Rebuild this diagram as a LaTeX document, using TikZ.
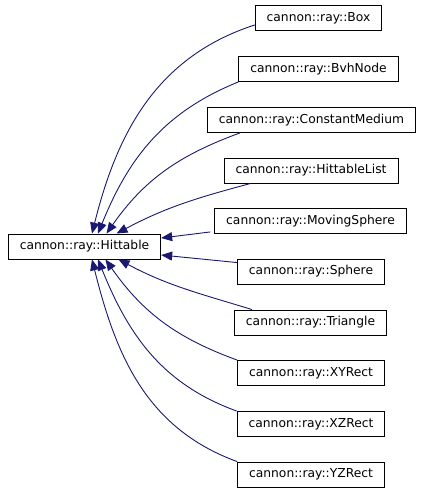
\documentclass[tikz,border=0pt]{standalone}
\usepackage{fontspec}
\setmainfont{DejaVu Sans}
\usepackage{tikz}
\usetikzlibrary{
  positioning,
  arrows.meta
}
\definecolor{EdgeBlue}{RGB}{25,25,112}

\begin{document}
\begin{tikzpicture}[
  x=1pt,y=-1pt,
  cls/.style={draw=black,fill=white,line width=0.9pt,
    inner xsep=11.5pt,inner ysep=0pt,minimum height=25pt,
    font=\fontsize{12.3}{14}\selectfont},
  inh/.style={-{Triangle[length=11pt,width=9pt]},line width=0.9pt,EdgeBlue},
]
\useasboundingbox (0,0) rectangle (432,493);
% -- base class --
\node[cls] (Hittable) at (84.5,246.5) {cannon::ray::Hittable};

% -- derived classes --
\node[cls] (Box)            at (318.5,18)  {cannon::ray::Box};
\node[cls] (BvhNode)        at (318.5,69)  {cannon::ray::BvhNode};
\node[cls] (ConstantMedium) at (311.5,120) {cannon::ray::ConstantMedium};
\node[cls] (HittableList)   at (311,170.5) {cannon::ray::HittableList};
\node[cls] (MovingSphere)   at (310.5,221) {cannon::ray::MovingSphere};
\node[cls] (Sphere)         at (311,271.5) {cannon::ray::Sphere};
\node[cls] (Triangle)       at (310.5,322.5) {cannon::ray::Triangle};
\node[cls] (XYRect)         at (311,373)   {cannon::ray::XYRect};
\node[cls] (XZRect)         at (311,424)   {cannon::ray::XZRect};
\node[cls] (YZRect)         at (311,474.5) {cannon::ray::YZRect};

% -- inheritance edges --
\foreach \s/\sx/\sy/\o/\i/\t/\tx/\ty in {
    Box.south west/0/-6/198/76/Hittable.north/7.5/0,
    BvhNode.south west/0/0/202/68/Hittable.north/13.5/0,
    ConstantMedium.south west/33/0/200/55/Hittable.north/22/0,
    HittableList.south west/27/0/195/28/Hittable.north/32/0,
    Triangle.north west/18/0/163/-28/Hittable.south/34/0,
    XYRect.north west/0/0/160/-55/Hittable.south/21/0,
    XZRect.north west/0/0/160/-68/Hittable.south/13.5/0,
    YZRect.north west/0/0/160/-76/Hittable.south/7.5/0}
  \draw[inh] ([shift={(\sx,\sy)}]\s) to[out=\o,in=\i] ([shift={(\tx,\ty)}]\t);
\draw[inh] ([shift={(-4,-2)}]MovingSphere.south west) -- ([yshift=8.5pt]Hittable.east);
\draw[inh] ([yshift=-4pt]Sphere.north west) -- ([yshift=-8.5pt]Hittable.east);
\end{tikzpicture}
\end{document}
